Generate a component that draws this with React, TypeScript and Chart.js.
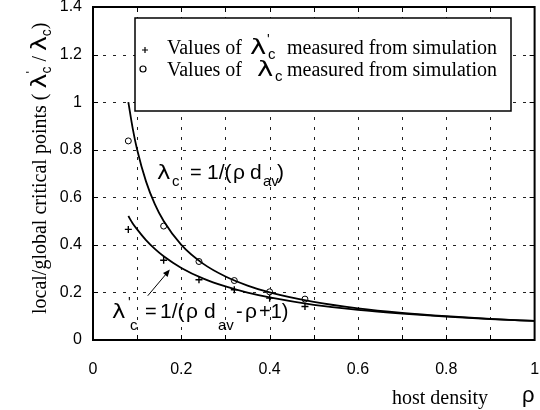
import React, { useEffect, useRef } from "react";
import { Chart, registerables } from "chart.js";
Chart.register(...registerables);

// ---- data ----
const curveX = [0.08, 0.09, 0.1, 0.12, 0.14, 0.16, 0.2, 0.25, 0.3, 0.35, 0.4, 0.5, 0.6, 0.7, 0.8, 0.9, 1.0];
const globalCurve = [1.0, 0.889, 0.8, 0.667, 0.571, 0.5, 0.4, 0.32, 0.267, 0.229, 0.2, 0.16, 0.133, 0.114, 0.1, 0.089, 0.08];
const localCurve = [0.521, 0.49, 0.465, 0.42, 0.383, 0.352, 0.303, 0.258, 0.225, 0.199, 0.179, 0.148, 0.127, 0.111, 0.098, 0.088, 0.08];
const simX = [0.08, 0.16, 0.24, 0.32, 0.4, 0.48];
const simLocal = [0.465, 0.335, 0.253, 0.211, 0.176, 0.141];
const simGlobal = [0.837, 0.479, 0.33, 0.25, 0.2025, 0.172];
const gridX = [0.1, 0.2, 0.3, 0.4, 0.5, 0.6, 0.7, 0.8, 0.9];
const gridY = [0.2, 0.4, 0.6, 0.8, 1.0, 1.2];
const arrowFrom = { x: 0.124, y: 0.186 };
const arrowTo = { x: 0.174, y: 0.296 };

const SANS = '"Liberation Sans", Arial, sans-serif';
const SERIF = '"Liberation Serif", "Times New Roman", serif';
const GREEK = '"DejaVu Sans", sans-serif';

type Seg = { t: string; font: string; x?: number; dy?: number; sx?: number; stay?: boolean };
function drawSegs(ctx: CanvasRenderingContext2D, x0: number, y0: number, segs: Seg[]) {
  let cx = x0;
  for (const s of segs) {
    ctx.font = s.font;
    if (s.x !== undefined) cx = s.x;
    const y = y0 + (s.dy ?? 0);
    const sx = s.sx ?? 1;
    const w = ctx.measureText(s.t).width * sx;
    if (sx !== 1) {
      ctx.save();
      ctx.translate(cx, y);
      ctx.scale(sx, 1);
      ctx.fillText(s.t, 0, 0);
      ctx.restore();
    } else {
      ctx.fillText(s.t, cx, y);
    }
    if (!s.stay) cx += w;
  }
}

const fmt = (v: any) => String(Math.round(Number(v) * 10) / 10);

const decor = {
  id: "decor",
  beforeDatasetsDraw(chart: any) {
    const { ctx, chartArea: a, scales } = chart;
    const xs = scales.x, ys = scales.y;
    ctx.save();
    ctx.strokeStyle = "#222";
    ctx.lineWidth = 1;
    ctx.setLineDash([3, 7]);
    for (const v of gridX) {
      const px = Math.round(xs.getPixelForValue(v)) + 0.5;
      ctx.beginPath(); ctx.moveTo(px, a.bottom); ctx.lineTo(px, a.top); ctx.stroke();
    }
    for (const v of gridY) {
      const py = Math.round(ys.getPixelForValue(v)) + 0.5;
      ctx.beginPath(); ctx.moveTo(a.left, py); ctx.lineTo(a.right, py); ctx.stroke();
    }
    ctx.restore();
  },
  afterDatasetsDraw(chart: any) {
    const { ctx, chartArea: a, scales } = chart;
    const xs = scales.x, ys = scales.y;
    ctx.save();
    // frame
    ctx.strokeStyle = "#000";
    ctx.lineWidth = 2;
    ctx.strokeRect(a.left, a.top, a.right - a.left, a.bottom - a.top);
    ctx.lineWidth = 1;
    for (const v of gridX) {
      const px = Math.round(xs.getPixelForValue(v)) + 0.5;
      ctx.beginPath(); ctx.moveTo(px, a.top); ctx.lineTo(px, a.top + 5); ctx.stroke();
      ctx.beginPath(); ctx.moveTo(px, a.bottom); ctx.lineTo(px, a.bottom - 5); ctx.stroke();
    }
    for (const v of gridY) {
      const py = Math.round(ys.getPixelForValue(v)) + 0.5;
      ctx.beginPath(); ctx.moveTo(a.left, py); ctx.lineTo(a.left + 5, py); ctx.stroke();
      ctx.beginPath(); ctx.moveTo(a.right, py); ctx.lineTo(a.right - 5, py); ctx.stroke();
    }

    // legend box
    ctx.fillStyle = "#fff";
    ctx.fillRect(135, 18, 376, 93);
    ctx.lineWidth = 1.5;
    ctx.strokeStyle = "#000";
    ctx.strokeRect(135, 18, 376, 93);
    ctx.lineWidth = 1.2;
    ctx.beginPath();
    ctx.moveTo(142, 50); ctx.lineTo(148, 50);
    ctx.moveTo(145, 47); ctx.lineTo(145, 53);
    ctx.stroke();
    ctx.beginPath();
    ctx.arc(143, 69, 3, 0, Math.PI * 2);
    ctx.stroke();

    ctx.fillStyle = "#000";
    ctx.textAlign = "left";
    ctx.textBaseline = "alphabetic";
    drawSegs(ctx, 0, 54, [
      { t: "Values of", font: `20px ${SERIF}`, x: 167 },
      { t: "λ", font: `22px ${GREEK}`, x: 250, sx: 1.25 },
      { t: "'", font: `14px ${SANS}`, x: 267, dy: -10 },
      { t: "c", font: `15px ${SANS}`, x: 268, dy: 5 },
      { t: "measured from simulation", font: `20px ${SERIF}`, x: 287 },
    ]);
    drawSegs(ctx, 0, 76, [
      { t: "Values of", font: `20px ${SERIF}`, x: 167 },
      { t: "λ", font: `22px ${GREEK}`, x: 257, sx: 1.25 },
      { t: "c", font: `15px ${SANS}`, x: 275, dy: 5 },
      { t: "measured from simulation", font: `20px ${SERIF}`, x: 287 },
    ]);

    // annotation: global
    drawSegs(ctx, 0, 179, [
      { t: "λ", font: `19px ${GREEK}`, x: 157, sx: 1.2 },
      { t: "c", font: `15px ${SANS}`, x: 172, dy: 7 },
      { t: "=", font: `20px ${SANS}`, x: 190 },
      { t: "1/(", font: `21px ${SANS}`, x: 207 },
      { t: "ρ", font: `21px ${SANS}`, x: 233 },
      { t: "d", font: `21px ${SANS}`, x: 250 },
      { t: "av", font: `15px ${SANS}`, x: 263, dy: 7 },
      { t: ")", font: `21px ${SANS}`, x: 277 },
    ]);
    // annotation: local
    drawSegs(ctx, 0, 318, [
      { t: "λ", font: `19px ${GREEK}`, x: 112, sx: 1.2 },
      { t: "'", font: `14px ${SANS}`, x: 128, dy: -11 },
      { t: "c", font: `15px ${SANS}`, x: 130, dy: 12 },
      { t: "=", font: `20px ${SANS}`, x: 145 },
      { t: "1/(", font: `21px ${SANS}`, x: 160 },
      { t: "ρ", font: `21px ${SANS}`, x: 186 },
      { t: "d", font: `21px ${SANS}`, x: 204 },
      { t: "av", font: `15px ${SANS}`, x: 218, dy: 12 },
      { t: "-", font: `20px ${SANS}`, x: 236 },
      { t: "ρ", font: `21px ${SANS}`, x: 245 },
      { t: "+1)", font: `20px ${SANS}`, x: 259 },
    ]);

    // arrow
    const x1 = xs.getPixelForValue(arrowFrom.x), y1 = ys.getPixelForValue(arrowFrom.y);
    const x2 = xs.getPixelForValue(arrowTo.x), y2 = ys.getPixelForValue(arrowTo.y);
    const ang = Math.atan2(y2 - y1, x2 - x1);
    ctx.lineWidth = 1;
    ctx.beginPath(); ctx.moveTo(x1, y1); ctx.lineTo(x2 - 5 * Math.cos(ang), y2 - 5 * Math.sin(ang)); ctx.stroke();
    ctx.beginPath();
    ctx.moveTo(x2, y2);
    ctx.lineTo(x2 - 7 * Math.cos(ang) + 3 * Math.sin(ang), y2 - 7 * Math.sin(ang) - 3 * Math.cos(ang));
    ctx.lineTo(x2 - 7 * Math.cos(ang) - 3 * Math.sin(ang), y2 - 7 * Math.sin(ang) + 3 * Math.cos(ang));
    ctx.closePath();
    ctx.fill();

    // x title
    drawSegs(ctx, 0, 404, [
      { t: "host density", font: `20px ${SERIF}`, x: 392 },
      { t: "ρ", font: `22px ${SANS}`, x: 522, dy: -2 },
    ]);

    // y title
    ctx.save();
    ctx.translate(46, 314);
    ctx.rotate(-Math.PI / 2);
    drawSegs(ctx, 0, 0, [
      { t: "local/global critical points ( ", font: `20px ${SERIF}` },
      { t: "λ", font: `21px ${GREEK}`, sx: 1.2 },
      { t: "'", font: `13px ${SANS}`, dy: -11, stay: true },
      { t: "c", font: `14px ${SANS}`, dy: 5 },
      { t: " / ", font: `20px ${SERIF}` },
      { t: "λ", font: `21px ${GREEK}`, sx: 1.2 },
      { t: "c", font: `14px ${SANS}`, dy: 5 },
      { t: ")", font: `20px ${SERIF}` },
    ]);
    ctx.restore();

    ctx.restore();
  },
};

export default function App() {
  const ref = useRef<HTMLCanvasElement | null>(null);
  useEffect(() => {
    document.body.style.margin = "0";
    const canvas = ref.current;
    if (!canvas) return;
    const pts = (xv: number[], yv: number[]) => xv.map((x, i) => ({ x, y: yv[i] }));
    const tickFont = { family: SANS, size: 16, lineHeight: 1 };
    const chart = new Chart(canvas, {
      type: "scatter",
      data: {
        datasets: [
          {
            label: "global",
            data: pts(curveX, globalCurve),
            showLine: true,
            borderColor: "#000",
            borderWidth: 1.8,
            pointRadius: 0,
            cubicInterpolationMode: "monotone",
            fill: false,
          } as any,
          {
            label: "local",
            data: pts(curveX, localCurve),
            showLine: true,
            borderColor: "#000",
            borderWidth: 1.8,
            pointRadius: 0,
            cubicInterpolationMode: "monotone",
            fill: false,
          } as any,
          {
            label: "sim local",
            data: pts(simX, simLocal),
            pointStyle: "cross",
            pointRadius: 3.5,
            borderWidth: 1.4,
            borderColor: "#000",
            backgroundColor: "#000",
          },
          {
            label: "sim global",
            data: pts(simX, simGlobal),
            pointStyle: "circle",
            pointRadius: 3,
            borderWidth: 1,
            borderColor: "#000",
            backgroundColor: "#fff",
          },
        ],
      },
      options: {
        responsive: false,
        animation: false,
        events: [],
        layout: { padding: { top: 0, right: 5, left: 0, bottom: 0 } },
        plugins: { legend: { display: false }, tooltip: { enabled: false } },
        scales: {
          x: {
            type: "linear",
            min: 0,
            max: 1,
            ticks: { stepSize: 0.2, color: "#000", font: tickFont, padding: 22, maxRotation: 0, callback: fmt },
            grid: { display: false, drawTicks: false },
            border: { display: false },
            afterFit: (s: any) => { s.height = 70; s.paddingRight = 5; },
          },
          y: {
            min: 0,
            max: 1.4,
            ticks: { stepSize: 0.2, color: "#000", font: tickFont, padding: 11, callback: fmt },
            grid: { display: false, drawTicks: false },
            border: { display: false },
            afterFit: (s: any) => { s.width = 93; s.paddingTop = 7; s.paddingBottom = 0; },
          },
        },
      },
      plugins: [decor],
    });
    return () => chart.destroy();
  }, []);
  return (
    <div style={{ position: "fixed", left: 0, top: 0, width: 540, height: 410, background: "#fff" }}>
      <canvas ref={ref} width={540} height={410} style={{ display: "block" }} />
    </div>
  );
}
